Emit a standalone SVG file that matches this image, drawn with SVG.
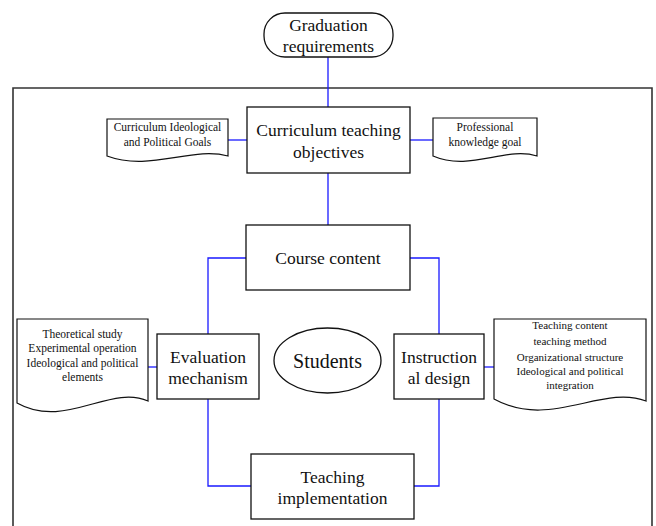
<svg xmlns="http://www.w3.org/2000/svg" width="656" height="526" viewBox="0 0 656 526">
<style>
.box{fill:#fff;stroke:#111;stroke-width:1.3}
.doc{fill:#fff;stroke:#111;stroke-width:1.2}
text{font-family:'Liberation Serif','Times New Roman','DejaVu Serif',serif;fill:#111;text-anchor:middle}
.big{font-size:17.5px}
.sm{font-size:11.5px}
.conn{fill:none;stroke:#1a1aff;stroke-width:1.3}
</style>
<rect width="656" height="526" fill="#fff"/>
<g id="frame">
<path d="M13,540 V88 H652 V540" fill="none" stroke="#333" stroke-width="1.6"/>
</g>
<g id="connectors">
<path class="conn" d="M328,57 V107"/>
<path class="conn" d="M328,173 V225"/>
<path class="conn" d="M228,140 H247"/>
<path class="conn" d="M410,140 H433"/>
<path class="conn" d="M246,258 H208 V334"/>
<path class="conn" d="M208,399 V486 H251"/>
<path class="conn" d="M410,258 H439 V334"/>
<path class="conn" d="M439,399 V486 H414"/>
<path class="conn" d="M148,367 H157"/>
<path class="conn" d="M484,367 H494"/>
</g>
<g id="graduation">
<rect class="box" x="264" y="13" width="129" height="44" rx="21" ry="21"/>
<text class="big" x="328.5" y="31" font-family="Liberation Serif">Graduation</text>
<text class="big" x="328.5" y="52" font-family="Liberation Serif">requirements</text>
</g>
<g id="objectives">
<rect class="box" x="247" y="107" width="163" height="66"/>
<text class="big" x="328.5" y="136">Curriculum teaching</text>
<text class="big" x="328.5" y="158">objectives</text>
</g>
<g id="ideo-goals">
<path class="doc" d="M107,119 H228 V156 C192,146 150,172 107,156 Z"/>
<text class="sm" x="167.5" y="131">Curriculum Ideological</text>
<text class="sm" x="167.5" y="146">and Political Goals</text>
</g>
<g id="prof-goal">
<path class="doc" d="M433,118 H537 V156 C506,146 470,172 433,156 Z"/>
<text class="sm" x="485" y="131">Professional</text>
<text class="sm" x="485" y="146">knowledge goal</text>
</g>
<g id="course-content">
<rect class="box" x="246" y="225" width="164" height="65"/>
<text class="big" x="328" y="264">Course content</text>
</g>
<g id="evaluation">
<rect class="box" x="157" y="334" width="102" height="65"/>
<text class="big" x="208" y="363">Evaluation</text>
<text class="big" x="208" y="384">mechanism</text>
</g>
<g id="students">
<ellipse class="box" cx="327.5" cy="360.5" rx="53.5" ry="32.5"/>
<text style="font-size:20px" x="327.5" y="368">Students</text>
</g>
<g id="instructional">
<rect class="box" x="394" y="334" width="90" height="65"/>
<text class="big" x="439" y="363">Instruction</text>
<text class="big" x="439" y="384">al design</text>
</g>
<g id="implementation">
<rect class="box" x="251" y="454" width="163" height="65"/>
<text class="big" x="332.5" y="483">Teaching</text>
<text class="big" x="332.5" y="504">implementation</text>
</g>
<g id="eval-doc">
<path class="doc" d="M17,319 H148 V401 C110,384 65,430 17,403 Z"/>
<text class="sm" x="82.5" y="338">Theoretical study</text>
<text class="sm" x="82.5" y="352">Experimental operation</text>
<text class="sm" x="82.5" y="367">Ideological and political</text>
<text class="sm" x="82.5" y="381">elements</text>
</g>
<g id="design-doc">
<path class="doc" d="M494,319 H646 V401 C602,384 550,430 494,399 Z"/>
<text style="font-size:11px" x="570" y="329">Teaching content</text>
<text style="font-size:11px" x="570" y="345">teaching method</text>
<text style="font-size:11px" x="570" y="361">Organizational structure</text>
<text style="font-size:11px" x="570" y="375">Ideological and political</text>
<text style="font-size:11px" x="570" y="389">integration</text>
</g>
</svg>
